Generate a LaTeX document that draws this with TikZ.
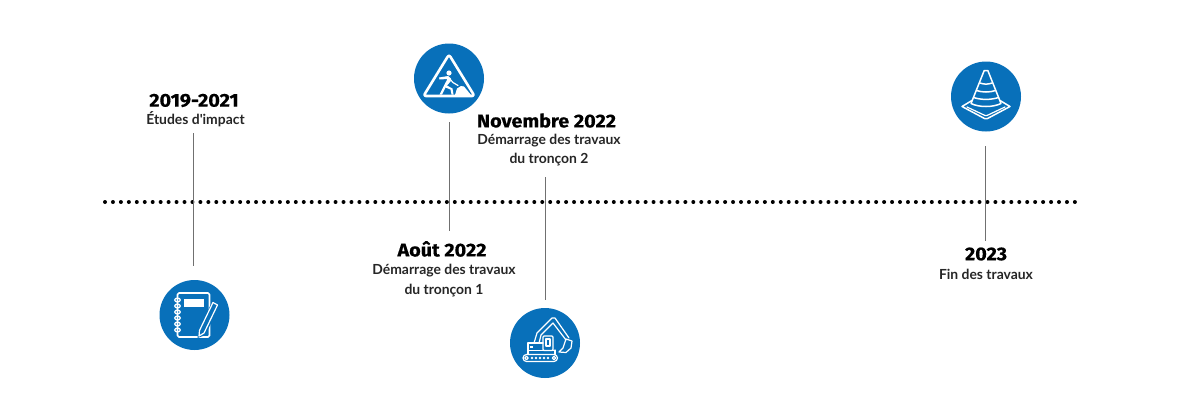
\documentclass[tikz,border=0pt]{standalone}
\usepackage{fontspec}
\newfontfamily\subf{Lato}
\newfontfamily\ttl[BoldFeatures={FakeStretch=1.07,FakeBold=0.5}]{Fira Sans}
\definecolor{iconblue}{HTML}{0870BA}
\definecolor{stemgrey}{HTML}{707070}
\tikzset{
  iconbg/.style={circle,fill=iconblue,minimum size=70pt,inner sep=0pt},
  ttlnode/.style={font=\ttl\bfseries\fontsize{18.5}{20}\selectfont,text=black,inner sep=0pt,anchor=center},
  subnode/.style={font=\subf\bfseries\fontsize{13.9}{19.5}\selectfont,text=black!85,inner sep=0pt,align=center,anchor=center},
  stem/.style={draw=stemgrey,line width=1.2pt},
  ink/.style={draw=white,line width=1.7pt,line join=round,line cap=round,fill=none},
  thin ink/.style={draw=white,line width=1.2pt,line join=round,line cap=round,fill=none},
  timeline/.style={draw=black,line width=4pt,line cap=round,dash pattern=on 0pt off 7.95pt}
}
\begin{document}
\begin{tikzpicture}[x=1pt,y=-1pt]
\useasboundingbox (0,0) rectangle (1200,400);
\fill[white] (0,0) rectangle (1200,400);
% timeline
\coordinate (tlA) at (105,202);
\coordinate (tlB) at (1075,202);
\draw[timeline] (tlA) -- (tlB);
% stems
\coordinate (s1a) at (193.5,133); \coordinate (s1b) at (193.5,266);
\coordinate (s2a) at (449.5,122); \coordinate (s2b) at (449.5,231);
\coordinate (s3a) at (545.5,177); \coordinate (s3b) at (545.5,300);
\coordinate (s4a) at (985.5,146); \coordinate (s4b) at (985.5,241);
\draw[stem] (s1a) -- (s1b);
\draw[stem] (s2a) -- (s2b);
\draw[stem] (s3a) -- (s3b);
\draw[stem] (s4a) -- (s4b);
% icon discs
\node[iconbg] (ic1) at (194.5,315) {};
\node[iconbg] (ic2) at (449,78.5) {};
\node[iconbg] (ic3) at (545,343) {};
\node[iconbg] (ic4) at (986,96.5) {};
% texts
\node[ttlnode] (t1) at (194,100.5) {2019-2021};
\node[subnode] (d1) at (195.5,119.5) {Études d'impact};
\node[ttlnode] (t2) at (442,249) {Août 2022};
\node[subnode] (d2) at (444,280.5) {Démarrage des travaux\\du tronçon 1};
\node[ttlnode] (t3) at (546.5,120.5) {Novembre 2022};
\node[subnode] (d3) at (549,150) {Démarrage des travaux\\du tronçon 2};
\node[ttlnode] (t4) at (986,254) {2023};
\node[subnode] (d4) at (986,274.5) {Fin des travaux};
% notebook icon
\begin{scope}[shift={(ic1.center)}]
  \draw[ink,rounded corners=1.5pt] (-17,-22) rectangle (15,22);
  \fill[white] (-11,-16) rectangle (9,-8);
  \foreach \yy in {-15,-9,-3,3,9,15}
    \draw[thin ink] (-17,\yy) ellipse (2.8 and 2);
  \fill[iconblue] (3,17) -- (18,-14) -- (25,-10) -- (11,20) -- (3,23) -- cycle;
  \draw[thin ink] (5,15.5) -- (18.5,-12.5) -- (23,-10) -- (9.5,18) -- (4.5,21) -- cycle;
\end{scope}
% road-works sign icon
\begin{scope}[shift={(ic2.center)}]
  \draw[draw=white,line width=2.6pt,line join=round,rounded corners=2.5pt] (0,-24) -- (25.5,17.5) -- (-25.5,17.5) -- cycle;
  \fill[white] (0,-5.5) circle (2.6);
  \fill[white] (-10,-1) -- (-1,-2.5) -- (2,0) -- (1.5,3) -- (-2,7) -- (3.5,10) -- (4.5,16) -- (2.5,16) -- (1.5,11) -- (-3.5,9) -- (-7,16) -- (-9.5,16) -- (-4,5) -- (-1.5,0.5) -- (-9.5,1) -- cycle;
  \draw[thin ink] (-1,-1.5) -- (4,4) -- (9,7);
  \fill[white] (6,16.5) -- (8,10) -- (12,7.5) -- (15,8) -- (22,16.5) -- cycle;
\end{scope}
% excavator icon
\begin{scope}[shift={(ic3.center)}]
  \draw[thin ink,rounded corners=3.5pt] (-22,11.5) rectangle (12.5,18.5);
  \draw[thin ink] (-18.5,15) circle (1.8);
  \draw[thin ink] (9,15) circle (1.8);
  \foreach \xx in {-13,-9,-5,-1,3}
    \fill[white] (\xx,15) circle (1.3);
  \draw[thin ink] (-17,11.5) -- (-17,0) -- (-2,0);
  \fill[white] (-15,2.5) rectangle (-12,5);
  \draw[thin ink] (10,11.5) -- (10,7);
  \draw[thin ink] (-17,7.5) -- (10,7.5);
  \draw[thin ink,rounded corners=1pt] (-2,-7) rectangle (8,7.5);
  \draw[thin ink] (1,-4) rectangle (5,3);
  \draw[thin ink] (-11,0) -- (-8,-10) -- (7,-25) -- (10,-25) -- (24,-5);
  \draw[thin ink] (-6,0) -- (-4,-8) -- (8,-20) -- (21,-3);
  \draw[thin ink] (21,-4) -- (27,-2) -- (26,5) -- (21,9.5) -- (14,9) -- (18,5) -- cycle;
\end{scope}
% traffic cone icon
\begin{scope}[shift={(ic4.center)}]
  \draw[thin ink,line width=1.5pt] (-1.8,-26) -- (1.8,-26) -- (15,7) .. controls (7,11) and (-7,11) .. (-15,7) -- cycle;
  \draw[thin ink,line width=1.5pt] (-6,-13.5) .. controls (-2,-12) and (2,-12) .. (6,-13.5);
  \draw[thin ink,line width=1.5pt] (-9.5,-6) .. controls (-4,-4) and (4,-4) .. (9.5,-6);
  \draw[thin ink,line width=1.5pt] (-12.5,1) .. controls (-5,3.5) and (5,3.5) .. (12.5,1);
  \draw[thin ink,line width=1.5pt] (-14,4) -- (-24,10) -- (-1.5,22) -- (1.5,22) -- (24,10) -- (14,4);
  \draw[thin ink,line width=1.2pt] (-19,10.5) -- (-1,19) -- (1,19) -- (19,10.5);
\end{scope}
\end{tikzpicture}
\end{document}
